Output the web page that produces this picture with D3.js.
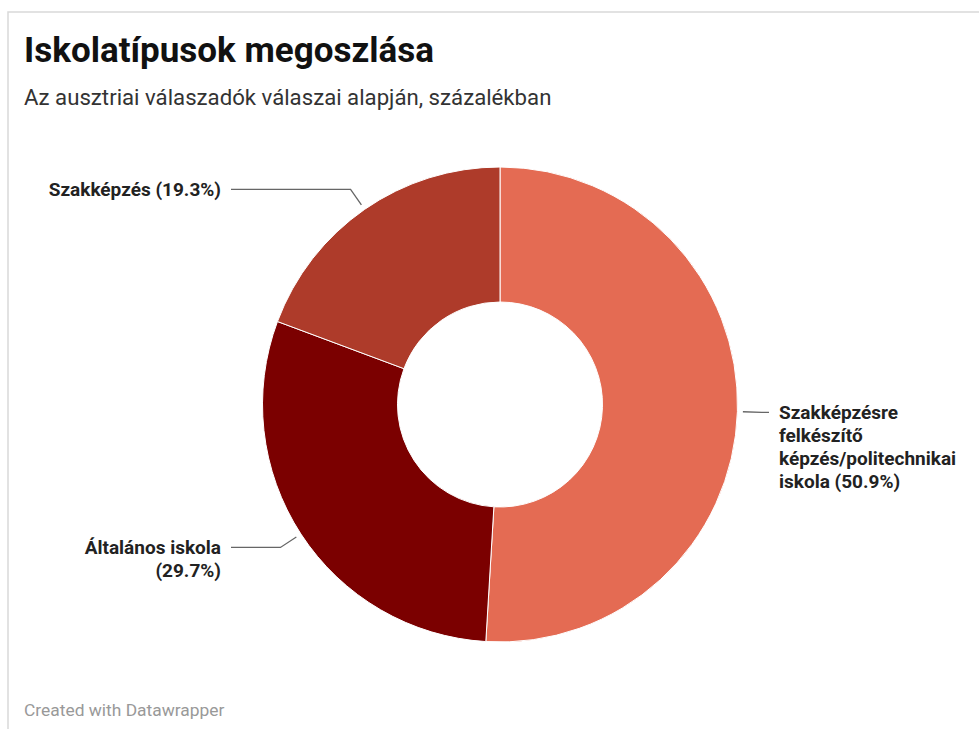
<!DOCTYPE html>
<html>
<head>
<meta charset="utf-8">
<script src="https://cdn.jsdelivr.net/npm/d3@7"></script>
<style>
  body { margin: 0; background: #fff; font-family: Roboto, sans-serif; }
  svg { display: block; }
</style>
</head>
<body>
<svg id="chart"></svg>
<script>
/**
 * Iskolatípusok megoszlása - donut
 */

var categories = ['Szakképzésre felkészítő képzés/politechnikai iskola', 'Általános iskola', 'Szakképzés'];
var values = [50.9, 29.7, 19.3];
var colors = ['#e46b53', '#7b0000', '#ae3b2a'];
// label lines as shown in the chart
var labelLines = [
  ['Szakképzésre', 'felkészítő', 'képzés/politechnikai', 'iskola (50.9%)'],
  ['Általános iskola', '(29.7%)'],
  ['Szakképzés (19.3%)']
];

var width = 979, height = 729;
var cx = 500, cy = 404.5;
var outerR = 237.5, innerR = 102.5;

var svg = d3.select('#chart')
    .attr('width', width)
    .attr('height', height);

// frame
svg.append('path')
    .attr('d', 'M8,' + height + 'V12H' + width)
    .attr('fill', 'none')
    .attr('stroke', '#d9d9d9')
    .attr('stroke-width', 1.5);

svg.append('text')
    .attr('x', 24).attr('y', 62)
    .attr('font-size', 35).attr('font-weight', 700)
    .attr('fill', '#111')
    .text('Iskolatípusok megoszlása');

svg.append('text')
    .attr('x', 24).attr('y', 105)
    .attr('font-size', 22.2)
    .attr('fill', '#333')
    .text('Az ausztriai válaszadók válaszai alapján, százalékban');

svg.append('text')
    .attr('x', 24).attr('y', 716)
    .attr('font-size', 17.4)
    .attr('fill', '#999')
    .text('Created with Datawrapper');

var data = categories.map(function(c, i) {
  return {name: c, value: values[i], color: colors[i], lines: labelLines[i]};
});

var pie = d3.pie().sort(null).value(function(d) { return d.value; });
var arc = d3.arc().innerRadius(innerR).outerRadius(outerR);
var arcs = pie(data);

var g = svg.append('g').attr('transform', 'translate(' + cx + ',' + cy + ')');

g.selectAll('path.slice')
    .data(arcs)
  .enter().append('path')
    .attr('class', 'slice')
    .attr('d', arc)
    .attr('fill', function(d) { return d.data.color; })
    .attr('stroke', '#fff')
    .attr('stroke-width', 1);

// leader lines
var startArc = d3.arc().innerRadius(243).outerRadius(243);
var bendArc = d3.arc().innerRadius(262).outerRadius(262);
var lineX = 269, textX = 279, lineH = 23;

arcs.forEach(function(d) {
  var p0 = startArc.centroid(d);
  var p1 = bendArc.centroid(d);
  var right = p1[0] > 0;
  var p2 = [right ? lineX : -lineX, p1[1]];

  g.append('polyline')
      .attr('points', [p0, p1, p2].map(function(p) { return p.join(','); }).join(' '))
      .attr('fill', 'none')
      .attr('stroke', '#666')
      .attr('stroke-width', 1.3);

  var t = g.append('text')
      .attr('x', right ? textX : -textX)
      .attr('y', p1[1] + 6.5)
      .attr('text-anchor', right ? 'start' : 'end')
      .attr('font-size', 19).attr('font-weight', 700)
      .attr('fill', '#222');
  d.data.lines.forEach(function(l, i) {
    t.append('tspan')
        .attr('x', right ? textX : -textX)
        .attr('dy', i === 0 ? 0 : lineH)
        .text(l);
  });
});
</script>
</body>
</html>
